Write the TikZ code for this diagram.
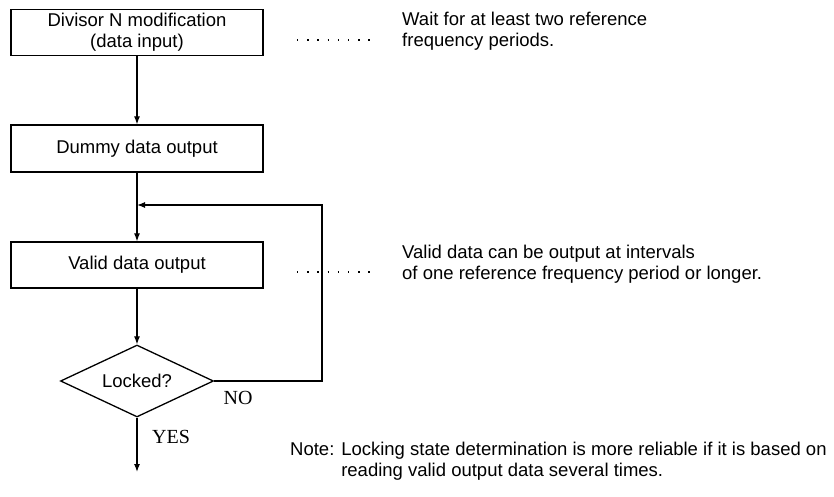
\documentclass[tikz,border=0pt]{standalone}
\usepackage{fontspec}
\setmainfont{Liberation Sans}
\newfontfamily\labelserif{Liberation Serif}
\usetikzlibrary{shapes.geometric,arrows.meta}
\begin{document}
\begin{tikzpicture}[x=1pt,y=-1pt,
  font=\fontsize{18.5}{21}\selectfont,
  boxstyle/.style={draw, line width=1.3pt, minimum width=252pt, minimum height=46pt, inner sep=0pt, align=center},
  decision/.style={draw, diamond, line width=1.3pt, minimum width=153pt, minimum height=72pt, aspect=2.125, inner sep=0pt},
  flow/.style={line width=1.2pt, -{Latex[length=8pt,width=6pt]}},
  dotline/.style={line width=1.4pt, dash pattern=on 1.4pt off 8.8pt},
  note/.style={anchor=west, align=left, inner sep=0pt},
  yesno/.style={font=\labelserif\fontsize{20}{22}\selectfont, inner sep=0pt}]
\useasboundingbox[fill=white] (0,0) rectangle (834,497);

\node[boxstyle] (b1) at (137,32.5) {Divisor N modification\\(data input)};
\node[boxstyle, minimum height=47pt] (b2) at (137,148.5) {Dummy data output};
\node[boxstyle] (b3) at (137,265) {Valid data output};
\node[decision] (d) at (137,381) {Locked?};

\coordinate (jn) at (137,205);
\coordinate (loopc) at (322,205);
\coordinate (endpt) at (137,472);

\draw[flow] (b1.south) -- (b2.north);
\draw[flow] (b2.south) -- (b3.north);
\draw[flow] (b3.south) -- (d.north);
\draw[flow] (d.east) -| (loopc) -- (jn);
\draw[flow] (d.south) -- (endpt);

\node[yesno] (no) at (238,398) {NO};
\node[yesno] (yes) at (171,437) {YES};

\coordinate (dA1) at (297,40);
\coordinate (dA2) at (370,40);
\coordinate (dB1) at (297,272);
\coordinate (dB2) at (371,272);
\draw[dotline] (dA1) -- (dA2);
\draw[dotline] (dB1) -- (dB2);

\node[note] (t1) at (402,31.5) {Wait for at least two reference\\frequency periods.};
\node[note] (t2) at (402,264.5) {Valid data can be output at intervals\\of one reference frequency period or longer.};
\node[note] (t3) at (290,462) {\begin{tabular}{@{}l@{ }l@{}}Note: & Locking state determination is more reliable if it is based on\\ & reading valid output data several times.\end{tabular}};
\end{tikzpicture}
\end{document}
